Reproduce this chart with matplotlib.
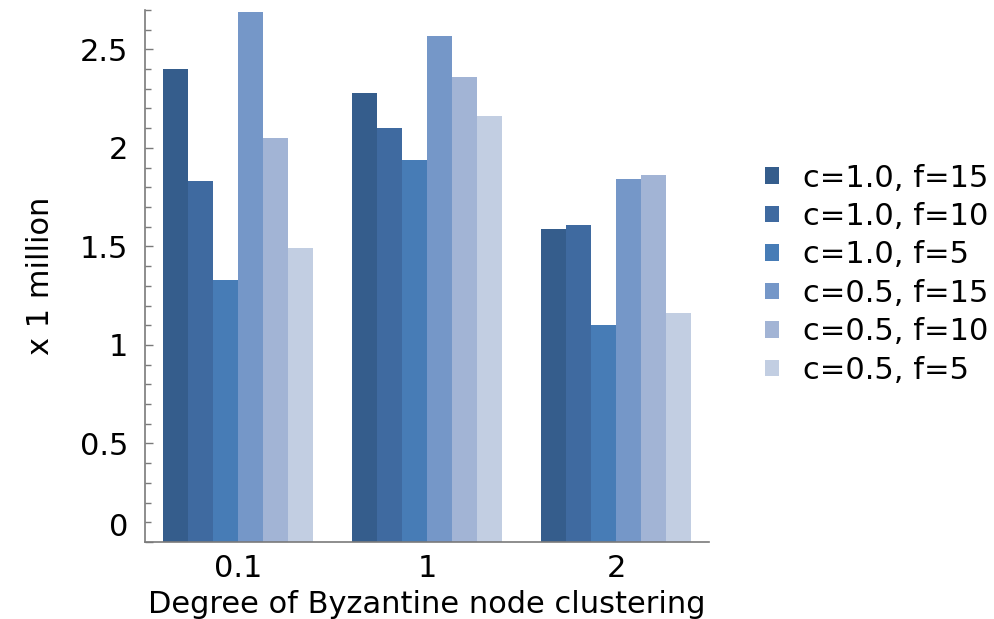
import matplotlib
matplotlib.use('Agg')
import matplotlib.pyplot as plt
import numpy as np
from matplotlib.ticker import MultipleLocator
from matplotlib.transforms import ScaledTranslation

# Data (values in millions)
groups = ['0.1', '1', '2']
series = ['c=1.0, f=15', 'c=1.0, f=10', 'c=1.0, f=5',
          'c=0.5, f=15', 'c=0.5, f=10', 'c=0.5, f=5']
c10_f15 = [2.40, 2.28, 1.59]
c10_f10 = [1.83, 2.10, 1.61]
c10_f5 = [1.33, 1.94, 1.10]
c05_f15 = [2.69, 2.57, 1.84]
c05_f10 = [2.05, 2.36, 1.86]
c05_f5 = [1.49, 2.16, 1.16]
values = [c10_f15, c10_f10, c10_f5, c05_f15, c05_f10, c05_f5]
colors = ['#355d8c', '#3f6aa0', '#477cb6', '#7597c8', '#a2b4d5', '#c2cee2']

plt.rcParams['font.family'] = 'DejaVu Sans'
fs = 22

fig = plt.figure(figsize=(9.94, 6.19), dpi=100)
ax = fig.add_axes([0.1459, 0.1244, 0.5674, 0.8595])

x = np.arange(len(groups))
w = 0.794 / len(series)
for i, (name, vals) in enumerate(zip(series, values)):
    ax.bar(x - 0.397 + w * (i + 0.5), vals, width=w, color=colors[i],
           linewidth=0, label=name)

ax.set_xlim(-0.49, 2.49)
ax.set_ylim(0, 2.70)
ax.set_xticks(x)
ax.set_xticklabels(groups)
ax.yaxis.set_minor_locator(MultipleLocator(0.1))
ax.set_yticks([0, 0.5, 1, 1.5, 2, 2.5])
ax.set_yticklabels(['0', '0.5', '1', '1.5', '2', '2.5'])

for s in ['top', 'right']:
    ax.spines[s].set_visible(False)
for s in ['left', 'bottom']:
    ax.spines[s].set_color('#7a7a7a')
    ax.spines[s].set_linewidth(1.2)

ax.tick_params(axis='y', which='major', direction='in', length=6, width=1,
               color='#7a7a7a', labelsize=fs, pad=12)
ax.tick_params(axis='y', which='minor', direction='in', length=4, width=1,
               color='#7a7a7a')
ax.tick_params(axis='x', length=0, labelsize=fs, pad=9)

# the zero label sits a bit above the axis line in the original
lbl0 = ax.get_yticklabels()[0]
lbl0.set_transform(lbl0.get_transform() + ScaledTranslation(0, 0.17, fig.dpi_scale_trans))

ax.set_xlabel('Degree of Byzantine node clustering', fontsize=fs, labelpad=5)
ax.set_ylabel('x 1 million', fontsize=fs, labelpad=18)

fig.legend(loc='center left', bbox_to_anchor=(0.754, 0.557), frameon=False,
           fontsize=fs, handlelength=0.46, handleheight=0.46,
           handletextpad=0.8, labelspacing=0.31, borderpad=0)

fig.savefig('out.png', dpi=100)
